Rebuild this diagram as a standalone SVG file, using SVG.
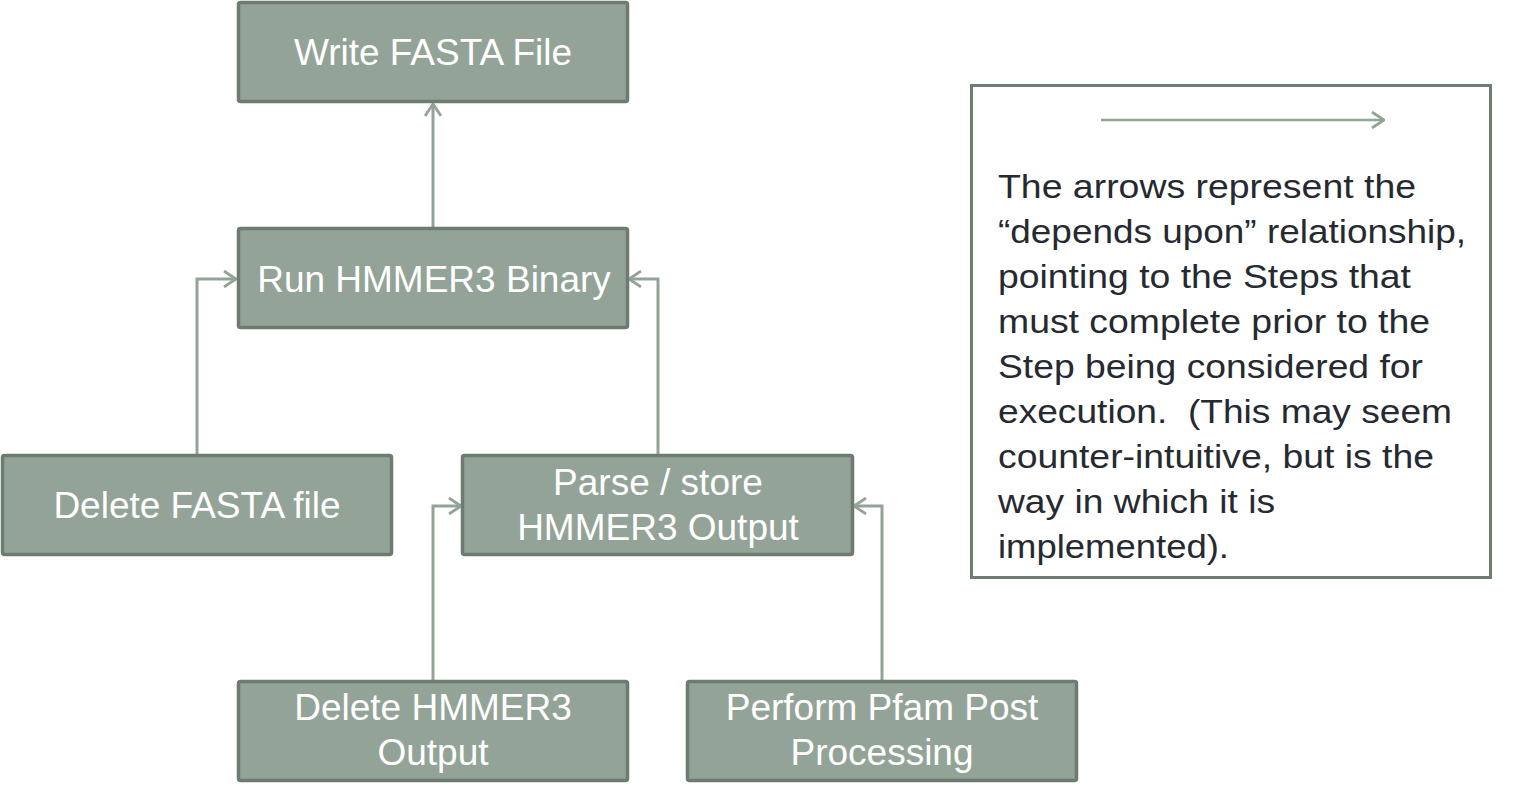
<svg xmlns="http://www.w3.org/2000/svg" width="1514" height="799" viewBox="0 0 1514 799">
<style>
.node rect{fill:#93a398;stroke:#6e7b70;stroke-width:3.5}
.node text{font-family:"Liberation Sans",Arial,sans-serif;font-size:37px;fill:#ffffff;text-anchor:middle}
.conn{fill:none;stroke:#93a398;stroke-width:3;marker-end:url(#arr)}
.legend text{font-family:"Liberation Sans",Arial,sans-serif;font-size:33px;fill:#262a30}
</style>
<defs>
<marker id="arr" markerUnits="userSpaceOnUse" viewBox="0 0 14 18" refX="13" refY="9" markerWidth="14" markerHeight="18" orient="auto">
<path d="M1,1 L13,9 L1,17" fill="none" stroke="#93a398" stroke-width="2.8"/>
</marker>
</defs>
<rect width="1514" height="799" fill="#ffffff"/>
<g id="connectors">
<path class="conn" d="M433,228 L433,104"/>
<path class="conn" d="M197,455 L197,279 L236,279"/>
<path class="conn" d="M658,455 L658,279 L629,279"/>
<path class="conn" d="M433,681 L433,506 L461,506"/>
<path class="conn" d="M882,681 L882,506 L854,506"/>
</g>
<g id="write-fasta" class="node"><rect x="238.5" y="2.5" width="389" height="99" rx="2"/><text x="433" y="65">Write FASTA File</text></g>
<g id="run-hmmer" class="node"><rect x="238.5" y="228.5" width="389" height="99" rx="2"/><text x="434" y="292">Run HMMER3 Binary</text></g>
<g id="delete-fasta" class="node"><rect x="2.5" y="455.5" width="389" height="99" rx="2"/><text x="197" y="518">Delete FASTA file</text></g>
<g id="parse-store" class="node"><rect x="462.5" y="455.5" width="390" height="99" rx="2"/><text x="658" y="495">Parse / store</text><text x="658" y="540">HMMER3 Output</text></g>
<g id="delete-hmmer" class="node"><rect x="238.5" y="681.5" width="389" height="99" rx="2"/><text x="433" y="720">Delete HMMER3</text><text x="433" y="765">Output</text></g>
<g id="pfam-post" class="node"><rect x="687.5" y="681.5" width="389" height="99" rx="2"/><text x="882" y="720">Perform Pfam Post</text><text x="882" y="765">Processing</text></g>
<g id="legend" class="legend">
<rect x="971.5" y="85.5" width="519" height="492" fill="#ffffff" stroke="#6f7c71" stroke-width="3"/>
<path d="M1101,120 L1384,120" fill="none" stroke="#93a398" stroke-width="2.5" marker-end="url(#arr)"/>
<text x="998" y="198" textLength="418" lengthAdjust="spacingAndGlyphs">The arrows represent the</text>
<text x="998" y="243" textLength="468" lengthAdjust="spacingAndGlyphs">“depends upon” relationship,</text>
<text x="998" y="288" textLength="413" lengthAdjust="spacingAndGlyphs">pointing to the Steps that</text>
<text x="998" y="333" textLength="432" lengthAdjust="spacingAndGlyphs">must complete prior to the</text>
<text x="998" y="378" textLength="425" lengthAdjust="spacingAndGlyphs">Step being considered for</text>
<text x="998" y="423" textLength="454" lengthAdjust="spacingAndGlyphs" xml:space="preserve">execution.  (This may seem</text>
<text x="998" y="468" textLength="436" lengthAdjust="spacingAndGlyphs">counter-intuitive, but is the</text>
<text x="998" y="513" textLength="277" lengthAdjust="spacingAndGlyphs">way in which it is</text>
<text x="998" y="558" textLength="231" lengthAdjust="spacingAndGlyphs">implemented).</text>
</g>
</svg>
